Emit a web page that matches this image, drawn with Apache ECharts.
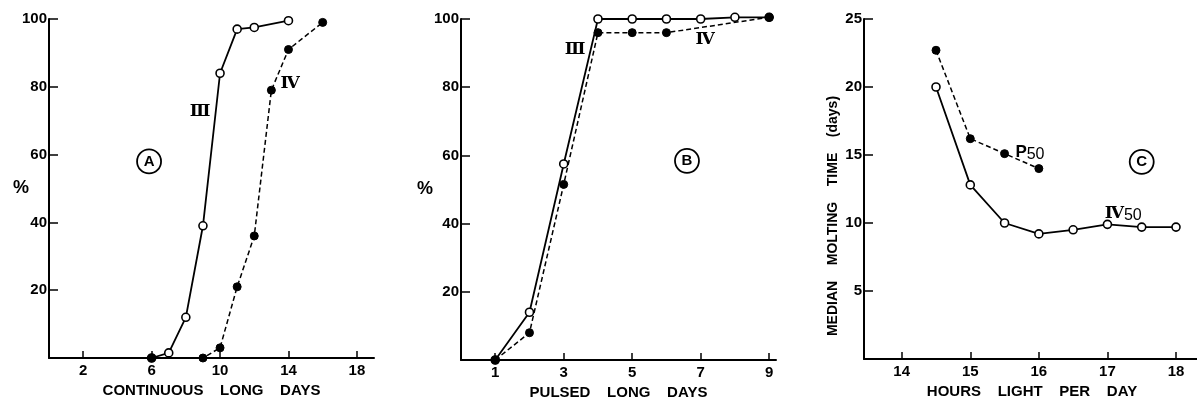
<!DOCTYPE html>
<html>
<head>
<meta charset="utf-8">
<script src="https://cdn.jsdelivr.net/npm/echarts@6/dist/echarts.min.js"></script>
<style>
html, body { margin: 0; background: #fff; }
#container { width: 1197px; height: 399px; }
</style>
</head>
<body>
<div id="container"></div>
<script>
// panel A: continuous long days
var aDaysIII = [6, 7, 8, 9, 10, 11, 12, 14];
var aIII = [0, 1.5, 12, 39, 84, 97, 97.5, 99.5];
var aDaysIV = [6, 9, 10, 11, 12, 13, 14, 16];
var aIV = [0, 0, 3, 21, 36, 79, 91, 99];
var aTicks = [2, 6, 10, 14, 18];

// panel B: pulsed long days
var bDaysIII = [1, 2, 3, 4, 5, 6, 7, 8, 9];
var bIII = [0, 14, 57.5, 100, 100, 100, 100, 100.5, 100.5];
var bDaysIV = [1, 2, 3, 4, 5, 6, 9];
var bIV = [0, 8, 51.5, 96, 96, 96, 100.5];
var bTicks = [1, 3, 5, 7, 9];

var pctTicks = [20, 40, 60, 80, 100];

// panel C: median molting time vs hours light
var cHoursIV = [14.5, 15, 15.5, 16, 16.5, 17, 17.5, 18];
var cIV = [20, 12.8, 10, 9.2, 9.5, 9.9, 9.7, 9.7];
var cHoursP = [14.5, 15, 15.5, 16];
var cP = [22.7, 16.2, 15.1, 14];
var cTicks = [14, 15, 16, 17, 18];
var cYTicks = [5, 10, 15, 20, 25];

var FONT = 'Liberation Sans';
var SERIF = 'DejaVu Serif';

function pairs(xs, ys) {
	return xs.map(function (x, i) { return [x, ys[i]]; });
}

function xAx(idx, min, max, ticks, name) {
	return {
		type: 'value', gridIndex: idx, min: min, max: max,
		name: name, nameLocation: 'middle', nameGap: 24,
		nameTextStyle: { fontFamily: FONT, fontSize: 15, fontWeight: 'bold', color: '#000' },
		axisLine: { show: true, onZero: false, lineStyle: { color: '#000', width: 2 } },
		axisTick: { show: true, inside: true, length: 7, customValues: ticks, lineStyle: { color: '#000', width: 1.5 } },
		axisLabel: { customValues: ticks, margin: 5, fontFamily: FONT, fontSize: 15, fontWeight: 'bold', color: '#000' },
		splitLine: { show: false }
	};
}

function yAx(idx, min, max, ticks, name, rot, gap, style) {
	return {
		type: 'value', gridIndex: idx, min: min, max: max,
		name: name, nameLocation: 'middle', nameRotate: rot, nameGap: gap,
		nameMoveOverlap: false,
		nameTextStyle: style,
		axisLine: { show: true, onZero: false, lineStyle: { color: '#000', width: 2 } },
		axisTick: { show: true, inside: true, length: 9, customValues: ticks, lineStyle: { color: '#000', width: 1.5 } },
		axisLabel: { customValues: ticks, margin: 2, fontFamily: FONT, fontSize: 15, fontWeight: 'bold', color: '#000' },
		splitLine: { show: false }
	};
}

var pctName = { fontFamily: FONT, fontSize: 18, fontWeight: 'bold', color: '#000' };
var moltName = { fontFamily: FONT, fontSize: 14, fontWeight: 'bold', color: '#000', padding: [0, 54, 0, 0] };

function openLine(idx, data, notes) {
	return {
		type: 'line', xAxisIndex: idx, yAxisIndex: idx, data: data, clip: false,
		symbol: 'circle', symbolSize: 8,
		lineStyle: { color: '#000', width: 1.8 },
		itemStyle: { color: '#fff', borderColor: '#000', borderWidth: 1.6 },
		markPoint: notes ? { data: notes, animation: false } : undefined
	};
}

function dashLine(idx, data, notes) {
	return {
		type: 'line', xAxisIndex: idx, yAxisIndex: idx, data: data, clip: false,
		symbol: 'circle', symbolSize: 8,
		lineStyle: { color: '#000', width: 1.5, type: [5, 3] },
		itemStyle: { color: '#000', borderColor: '#000', borderWidth: 1 },
		markPoint: notes ? { data: notes, animation: false } : undefined
	};
}

function roman(text, x, y) {
	return {
		coord: [x, y], symbol: 'circle', symbolSize: 0,
		label: { show: true, position: 'inside', formatter: text, fontFamily: SERIF, fontWeight: 'bold', fontSize: 17, color: '#000' }
	};
}

function circled(text, x, y) {
	return {
		coord: [x, y], symbol: 'circle', symbolSize: 24,
		itemStyle: { color: '#fff', borderColor: '#000', borderWidth: 1.8 },
		label: { show: true, position: 'inside', formatter: text, fontFamily: FONT, fontWeight: 'bold', fontSize: 15, color: '#000' }
	};
}

function subbed(main, sub, x, y, serif) {
	return {
		coord: [x, y], symbol: 'circle', symbolSize: 0,
		label: {
			show: true, position: 'inside', formatter: '{m|' + main + '}{s|' + sub + '}',
			rich: {
				m: { fontFamily: serif ? SERIF : FONT, fontWeight: 'bold', fontSize: 17, color: '#000' },
				s: { fontFamily: FONT, fontSize: 16, color: '#000', padding: [5, 0, 0, 0] }
			}
		}
	};
}

var myChart = echarts.init(document.getElementById('container'));

option = {
	animation: false,
	backgroundColor: '#fff',
	grid: [
		{ left: 49, top: 19, width: 325, height: 339, outerBoundsMode: 'none' },
		{ left: 461, top: 19, width: 315, height: 341, outerBoundsMode: 'none' },
		{ left: 864, top: 19, width: 336, height: 340, outerBoundsMode: 'none' }
	],
	xAxis: [
		xAx(0, 0, 19, aTicks, 'CONTINUOUS    LONG    DAYS'),
		xAx(1, 0, 9.2, bTicks, 'PULSED    LONG    DAYS'),
		xAx(2, 13.45, 18.35, cTicks, 'HOURS    LIGHT    PER    DAY')
	],
	yAxis: [
		yAx(0, 0, 100, pctTicks, '%', 0, 20, pctName),
		yAx(1, 0, 100, pctTicks, '%', 0, 28, pctName),
		yAx(2, 0, 25, cYTicks, 'MEDIAN    MOLTING    TIME    (days)', 90, 24, moltName)
	],
	series: [
		openLine(0, pairs(aDaysIII, aIII), [roman('Ⅲ', 8.83, 72.6), circled('A', 5.85, 58)]),
		dashLine(0, pairs(aDaysIV, aIV), [roman('Ⅳ', 14.1, 81)]),
		openLine(1, pairs(bDaysIII, bIII), [roman('Ⅲ', 3.33, 91), circled('B', 6.6, 58.4)]),
		dashLine(1, pairs(bDaysIV, bIV), [roman('Ⅳ', 7.13, 94)]),
		openLine(2, pairs(cHoursIV, cIV), [subbed('Ⅳ', '50', 17.23, 10.7, true), circled('C', 17.5, 14.5)]),
		dashLine(2, pairs(cHoursP, cP), [subbed('P', '50', 15.87, 15.2, false)])
	]
};

myChart.setOption(option);
</script>
</body>
</html>
